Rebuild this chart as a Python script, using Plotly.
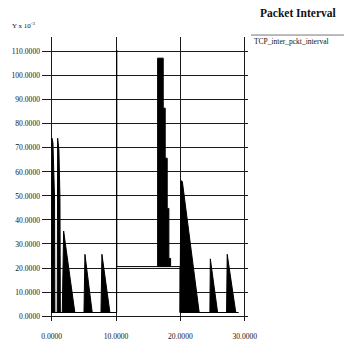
import plotly.graph_objects as go

# ---- data (time in s, interval in 1e-3 s) ----
base_low = 1.5
base_high = 20.6

burst_start = [0.0, 0.87, 1.65, 5.02, 7.66, 19.93, 24.58, 27.17]
burst_t = [[0.05, 0.2, 0.35, 0.45], [0.93, 1.13, 1.29], [1.86], [5.17], [7.81],
           [20.08, 20.3], [24.65], [27.27]]
burst_v = [[74, 72, 62, 49], [74, 69, 49], [35.4], [25.7], [25.7],
           [56.3, 56.0], [23.8], [25.7]]
burst_end = [0.5, 1.35, 3.6, 6.3, 9.05, 22.92, 25.78, 28.6]

step_start = 16.46
step_t = [16.46, 17.33, 17.64, 17.95, 18.21]
step_v = [107.3, 86.5, 65.7, 44.8, 24.0]
step_end = 18.48

path_t = [0.0, 10.1, 10.1, 10.1, 19.95, 19.95, 29.05]
path_v = [base_low, base_low, 110.7, base_high, base_high, base_low, base_low]

y_ticks = [0, 10, 20, 30, 40, 50, 60, 70, 80, 90, 100, 110]
x_ticks = [0, 10, 20, 30]

FONT = "Liberation Serif"
INK = "#111111"

fig = go.Figure()

# connecting line
fig.add_trace(go.Scatter(x=path_t, y=path_v, mode="lines",
                         line=dict(color="black", width=1),
                         showlegend=False, hoverinfo="skip"))

# bursts drawn as filled shapes down to the baseline
for s, ts, vs, e in zip(burst_start, burst_t, burst_v, burst_end):
    xs = [s] + ts + [e, s]
    ys = [base_low] + vs + [base_low, base_low]
    fig.add_trace(go.Scatter(x=xs, y=ys, mode="lines", fill="toself",
                             fillcolor="black", line=dict(color="black", width=1),
                             showlegend=False, hoverinfo="skip"))

# stepped cluster sitting on the upper baseline
fig.add_trace(go.Scatter(x=[step_start] + step_t + [step_end, step_start],
                         y=[base_high] + step_v + [base_high, base_high],
                         mode="lines", line_shape="hv", fill="toself",
                         fillcolor="black", line=dict(color="black", width=1),
                         showlegend=False, hoverinfo="skip"))

fig.update_layout(
    width=344, height=353,
    margin=dict(l=42, r=96, t=37, b=26),
    paper_bgcolor="white", plot_bgcolor="white",
    font=dict(family=FONT, color=INK, size=8),
    showlegend=False,
    xaxis=dict(range=[-1.5, 30.5], tickvals=x_ticks,
               ticktext=[f"{v:.4f}" for v in x_ticks],
               showgrid=True, gridcolor="#1a1a1a", gridwidth=1,
               zeroline=False, showline=False, ticks="",
               tickfont=dict(size=7.6, family=FONT, color=INK),
               ticklabelstandoff=9),
    yaxis=dict(range=[-2.04, 116.1], tickvals=y_ticks,
               ticktext=[f"{v:.4f}" for v in y_ticks],
               showgrid=True, gridcolor="#1a1a1a", gridwidth=1,
               zeroline=False, showline=False, ticks="",
               tickfont=dict(size=7.6, family=FONT, color=INK),
               ticklabelstandoff=1),
    annotations=[
        dict(text="<b>Packet Interval</b>", xref="paper", yref="paper",
             x=(297.5 - 42) / 206, y=1.0, xanchor="center", yanchor="middle",
             yshift=37 - 12.7, showarrow=False,
             font=dict(size=11.5, family=FONT, color=INK)),
        dict(text="Y x 10<sup>-3</sup>", xref="paper", yref="paper",
             x=(10 - 42) / 206, y=1.0, xanchor="left", yanchor="middle",
             yshift=37 - 25, showarrow=False,
             font=dict(size=7, family=FONT, color=INK)),
        dict(text="TCP_inter_pckt_interval", xref="paper", yref="paper",
             x=(252 - 42) / 206, y=1.0, xanchor="left", yanchor="middle",
             yshift=37 - 41, showarrow=False,
             font=dict(size=7.5, family=FONT, color=INK)),
    ],
    shapes=[
        dict(type="line", xref="paper", yref="paper",
             x0=(251 - 42) / 206, x1=(344 - 42) / 206,
             y0=(327 - 35) / 290, y1=(327 - 35) / 290,
             line=dict(color="#777777", width=1)),
    ],
)

fig.write_html("out.html")
